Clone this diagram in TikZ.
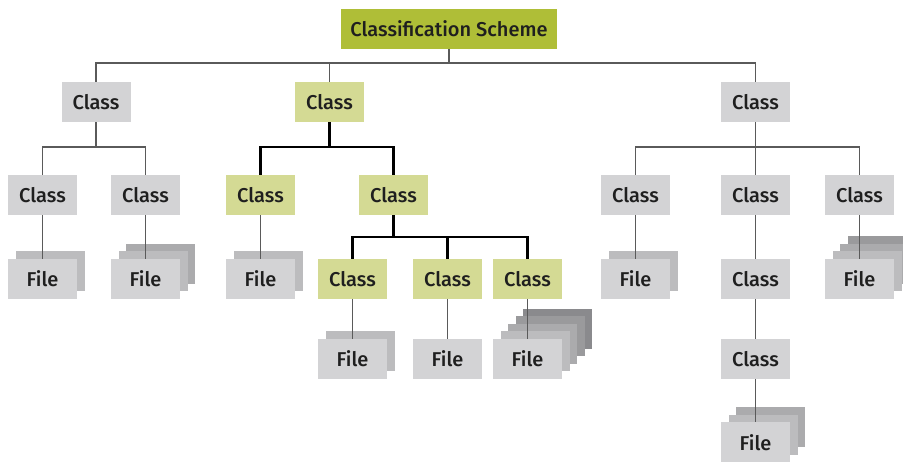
\documentclass[tikz,border=0pt]{standalone}
\usepackage{fontspec}
\setmainfont{Fira Sans}[UprightFont={Fira Sans Medium}]
\usepackage{tikz}
\usetikzlibrary{shapes,arrows}
\pgfdeclarelayer{background}
\pgfsetlayers{background,main}

\definecolor{rootgreen}{HTML}{AFBE37}
\definecolor{palegreen}{HTML}{D4DA94}
\definecolor{boxgray}{HTML}{D3D3D5}
\definecolor{layer1}{HTML}{BCBCBE}
\definecolor{layer2}{HTML}{ABABAD}
\definecolor{layer3}{HTML}{9A9A9C}
\definecolor{layer4}{HTML}{8A8A8D}
\definecolor{linegray}{HTML}{5A5A5A}

% file with a stack of sheets behind it
\newcommand{\filestack}[3]{%
  \begin{pgfonlayer}{background}
    \foreach \k in {#3}
      \fill[layer\k, shift={(#2)}] (7.5*\k-34.5,-7.5*\k-20) rectangle ++(69,40);
  \end{pgfonlayer}
  \node[filebox] (#1) at (#2) {File};}

\begin{document}
\begin{tikzpicture}[x=1pt,y=-1pt,
    box/.style={minimum width=69pt, minimum height=40pt, inner sep=0pt,
                font=\fontsize{20}{23}\selectfont, text=black!88},
    classbox/.style={box, fill=boxgray},
    greenbox/.style={box, fill=palegreen},
    filebox/.style={box, fill=boxgray},
    thin line/.style={linegray, line width=1.1pt},
    thick line/.style={black, line width=2.2pt}]
  \useasboundingbox (0,0) rectangle (903,462);

  \node[box, fill=rootgreen, minimum width=216pt] (root) at (449,29) {Classification Scheme};

  \node[classbox] (c1) at (96,102) {Class};
  \node[greenbox] (c2) at (329.5,102) {Class};
  \node[classbox] (c3) at (755.5,102) {Class};

  \node[classbox] (c11) at (42.5,195) {Class};
  \node[classbox] (c12) at (145.5,195) {Class};
  \node[greenbox] (c21) at (260.5,195) {Class};
  \node[greenbox] (c22) at (393.5,195) {Class};
  \node[classbox] (c31) at (635.5,195) {Class};
  \node[classbox] (c32) at (755.5,195) {Class};
  \node[classbox] (c33) at (859.5,195) {Class};

  \filestack{f11}{42.5,279}{1}
  \filestack{f12}{145.5,279}{2,1}
  \filestack{f21}{260.5,279}{1}
  \node[greenbox] (c221) at (352.5,279) {Class};
  \node[greenbox] (c222) at (447.5,279) {Class};
  \node[greenbox] (c223) at (527.5,279) {Class};
  \filestack{f31}{635.5,279}{1}
  \node[classbox] (c321) at (755.5,279) {Class};
  \filestack{f33}{859.5,279}{3,2,1}

  \filestack{f221}{352.5,359}{1}
  \node[filebox] (f222) at (447.5,359) {File};
  \filestack{f223}{527.5,359}{4,3,2,1}
  \node[classbox] (c3211) at (755.5,359) {Class};

  \filestack{f32}{755.5,442.5}{2,1}

  % branch points
  \coordinate (b0) at (449,63);
  \coordinate (b1) at (96,147);
  \coordinate (b2) at (329.5,147);
  \coordinate (b3) at (755.5,147);
  \coordinate (b22) at (393.5,237);

  \begin{pgfonlayer}{background}
    \draw[thin line] (root.south) -- (b0);
    \draw[thin line] (b0) -| (c1.north);
    \draw[thin line] (b0) -| (c2.north);
    \draw[thin line] (b0) -| (c3.north);

    \draw[thin line] (c1.south) -- (b1);
    \draw[thin line] (b1) -| (c11.north);
    \draw[thin line] (b1) -| (c12.north);
    \draw[thin line] (c11.south) -- (f11.north);
    \draw[thin line] (c12.south) -- (f12.north);

    \draw[thick line] (c2.south) -- (b2);
    \draw[thick line] (b2) -| (c21.north);
    \draw[thick line] (b2) -| (c22.north);
    \draw[thin line] (c21.south) -- (f21.north);
    \draw[thick line] (c22.south) -- (b22);
    \draw[thick line] (b22) -| (c221.north);
    \draw[thick line] (b22) -| (c222.north);
    \draw[thick line] (b22) -| (c223.north);
    \draw[thin line] (c221.south) -- (f221.north);
    \draw[thin line] (c222.south) -- (f222.north);
    \draw[thin line] (c223.south) -- (f223.north);

    \draw[thin line] (c3.south) -- (b3);
    \draw[thin line] (b3) -| (c31.north);
    \draw[thin line] (b3) -- (c32.north);
    \draw[thin line] (b3) -| (c33.north);
    \draw[thin line] (c31.south) -- (f31.north);
    \draw[thin line] (c32.south) -- (c321.north);
    \draw[thin line] (c321.south) -- (c3211.north);
    \draw[thin line] (c3211.south) -- (f32.north);
    \draw[thin line] (c33.south) -- (f33.north);
  \end{pgfonlayer}
\end{tikzpicture}
\end{document}
